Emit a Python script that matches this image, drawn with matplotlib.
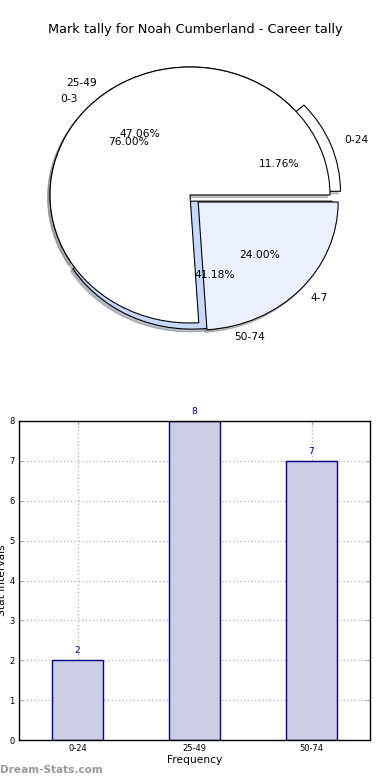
import matplotlib
matplotlib.use("Agg")
import matplotlib.pyplot as plt
import numpy as np

title = "Mark tally for Noah Cumberland - Career tally"
cats1 = ["0-24", "25-49", "50-74"]
vals1 = [2, 8, 7]
cats2 = ["0-3", "4-7"]
vals2 = [19, 6]

bar_cats = ["0-24", "25-49", "50-74"]
bar_vals = [2, 8, 7]

W, H = 390, 780
fig = plt.figure(figsize=(3.9, 7.8), dpi=100)

# ---- pie axes ----
cx, cy, rx, ry = 190, 195, 140, 128
lim = 1.25
axp = fig.add_axes([(cx - lim * rx) / W, (H - cy - lim * ry) / H,
                    2 * lim * rx / W, 2 * lim * ry / H])
wp = dict(edgecolor="black", linewidth=0.8)
tp = dict(fontsize=7.7)
sh = dict(ox=-0.012, oy=-0.015, shade=0.5, alpha=0.45)
axp.pie(vals1, labels=cats1, explode=[0.08, 0, 0.05],
        colors=["white", "white", "#c6d9fd"], autopct="%.2f%%",
        shadow=sh, startangle=0, wedgeprops=wp, textprops=tp)
axp.pie(vals2, labels=cats2, explode=[0, 0.08],
        colors=["white", "#eaf0fd"], autopct="%.2f%%",
        shadow=sh, startangle=0, wedgeprops=wp, textprops=tp)
axp.set_aspect("auto")
axp.set_xlim(-lim, lim)
axp.set_ylim(-lim, lim)
axp.set_axis_off()
fig.text(0.5, (H - 30) / H, title, ha="center", va="center", fontsize=9.3)

# ---- bar axes ----
l, r, t, b = 19, 370, 421, 740
axb = fig.add_axes([l / W, (H - b) / H, (r - l) / W, (b - t) / H])
x = np.arange(len(bar_cats))
axb.bar(x, bar_vals, width=0.44, color="#cdcde6", edgecolor="#000080",
        linewidth=1.0, zorder=2)
for xi, v in zip(x, bar_vals):
    axb.text(xi, v + 0.12, str(v), ha="center", va="bottom",
             fontsize=6.5, color="#000080")
axb.set_xlim(-0.5, 2.5)
axb.set_ylim(0, 8)
axb.set_xticks(x)
axb.set_xticklabels(bar_cats)
axb.set_yticks(range(0, 9))
axb.tick_params(direction="in", top=True, right=True, labelsize=6,
                length=3, color="#aaaaaa", pad=3)
axb.grid(True, linestyle=":", color="#bbbbbb", linewidth=1.0, zorder=0)
axb.set_axisbelow(True)
for s in axb.spines.values():
    s.set_linewidth(1.0)
axb.set_xlabel("Frequency", fontsize=7.7, labelpad=1)
axb.set_ylabel("Stat intervals", fontsize=7.7)
axb.yaxis.set_label_coords(-0.033, 0.5)

fig.text(0.0, (H - 770) / H, "Dream-Stats.com", fontsize=7.6, color="#999999",
         fontweight="bold", ha="left", va="center")

fig.savefig("out.png", dpi=100)
